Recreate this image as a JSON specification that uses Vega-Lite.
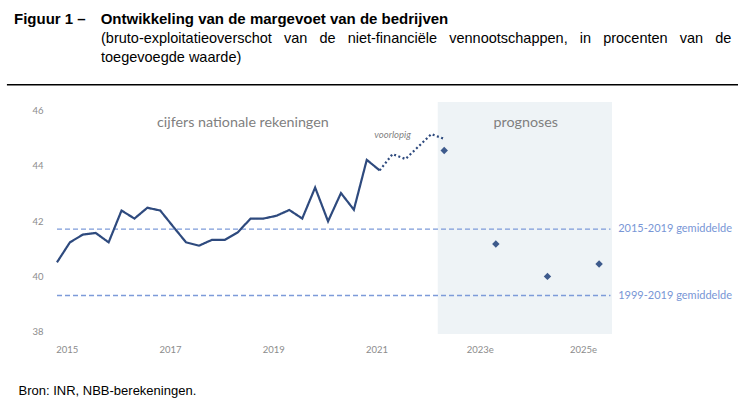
{
  "$schema": "https://vega.github.io/schema/vega-lite/v6.json",
  "autosize": {"type": "none"},
  "width": 555,
  "height": 232,
  "padding": {"left": 57, "top": 102, "right": 126, "bottom": 64},
  "background": "white",
  "config": {"view": {"stroke": null}},
  "title": {
    "text": "Figuur 1 –\u2003Ontwikkeling van de margevoet van de bedrijven",
    "subtitle": [
      "\u200b\u2003\u2003\u2003\u2003\u2003\u2003(bruto-exploitatieoverschot \u00a0\u00a0van \u00a0\u00a0de \u00a0\u00a0niet-financiële \u00a0\u00a0vennootschappen, \u00a0\u00a0in \u00a0\u00a0procenten \u00a0\u00a0van \u00a0\u00a0de",
      "\u200b\u2003\u2003\u2003\u2003\u2003\u2003toegevoegde waarde)"
    ],
    "anchor": "start",
    "frame": "group",
    "dx": -43,
    "offset": 20,
    "font": "Liberation Sans",
    "fontSize": 15,
    "fontWeight": "bold",
    "color": "#000000",
    "subtitleFont": "Liberation Sans",
    "subtitleFontSize": 14.5,
    "subtitleColor": "#000000",
    "subtitlePadding": 5,
    "subtitleLineHeight": 19
  },
  "datasets": {
    "reeks": [
      {"t": 2015.00, "value": 40.51, "reeks": "nationale rekeningen"},
      {"t": 2015.25, "value": 41.23, "reeks": "nationale rekeningen"},
      {"t": 2015.50, "value": 41.51, "reeks": "nationale rekeningen"},
      {"t": 2015.75, "value": 41.57, "reeks": "nationale rekeningen"},
      {"t": 2016.00, "value": 41.23, "reeks": "nationale rekeningen"},
      {"t": 2016.25, "value": 42.38, "reeks": "nationale rekeningen"},
      {"t": 2016.50, "value": 42.09, "reeks": "nationale rekeningen"},
      {"t": 2016.75, "value": 42.48, "reeks": "nationale rekeningen"},
      {"t": 2017.00, "value": 42.38, "reeks": "nationale rekeningen"},
      {"t": 2017.25, "value": 41.80, "reeks": "nationale rekeningen"},
      {"t": 2017.50, "value": 41.23, "reeks": "nationale rekeningen"},
      {"t": 2017.75, "value": 41.11, "reeks": "nationale rekeningen"},
      {"t": 2018.00, "value": 41.32, "reeks": "nationale rekeningen"},
      {"t": 2018.25, "value": 41.32, "reeks": "nationale rekeningen"},
      {"t": 2018.50, "value": 41.59, "reeks": "nationale rekeningen"},
      {"t": 2018.75, "value": 42.09, "reeks": "nationale rekeningen"},
      {"t": 2019.00, "value": 42.09, "reeks": "nationale rekeningen"},
      {"t": 2019.25, "value": 42.19, "reeks": "nationale rekeningen"},
      {"t": 2019.50, "value": 42.40, "reeks": "nationale rekeningen"},
      {"t": 2019.75, "value": 42.09, "reeks": "nationale rekeningen"},
      {"t": 2020.00, "value": 43.21, "reeks": "nationale rekeningen"},
      {"t": 2020.25, "value": 41.99, "reeks": "nationale rekeningen"},
      {"t": 2020.50, "value": 43.01, "reeks": "nationale rekeningen"},
      {"t": 2020.75, "value": 42.41, "reeks": "nationale rekeningen"},
      {"t": 2021.00, "value": 44.21, "reeks": "nationale rekeningen"},
      {"t": 2021.25, "value": 43.83, "reeks": "nationale rekeningen"},
      {"t": 2021.25, "value": 43.83, "reeks": "voorlopig"},
      {"t": 2021.50, "value": 44.42, "reeks": "voorlopig"},
      {"t": 2021.75, "value": 44.24, "reeks": "voorlopig"},
      {"t": 2022.00, "value": 44.69, "reeks": "voorlopig"},
      {"t": 2022.25, "value": 45.14, "reeks": "voorlopig"},
      {"t": 2022.50, "value": 44.97, "reeks": "voorlopig"}
    ],
    "prognoses": [
      {"t": 2022.5, "value": 44.55},
      {"t": 2023.5, "value": 41.17},
      {"t": 2024.5, "value": 40.00},
      {"t": 2025.5, "value": 40.45}
    ],
    "gemiddelden": [
      {"label": "2015-2019 gemiddelde", "value": 41.71},
      {"label": "1999-2019 gemiddelde", "value": 39.31}
    ]
  },
  "layer": [
    {
      "data": {"values": [{}]},
      "mark": {"type": "rect", "color": "#eef3f6"},
      "encoding": {
        "x": {"datum": 2022.375, "type": "quantitative"},
        "x2": {"datum": 2025.75}
      }
    },
    {
      "data": {"name": "gemiddelden"},
      "mark": {"type": "rule", "color": "#7d9bd9", "strokeWidth": 1.3, "strokeDash": [5, 3]},
      "encoding": {
        "y": {"field": "value", "type": "quantitative"},
        "x": {"datum": 2015, "type": "quantitative"},
        "x2": {"datum": 2025.72}
      }
    },
    {
      "data": {"name": "gemiddelden"},
      "mark": {"type": "text", "align": "left", "baseline": "middle", "font": "Lato", "fontSize": 11, "color": "#7896d6"},
      "encoding": {
        "y": {"field": "value", "type": "quantitative"},
        "x": {"datum": 2025.87, "type": "quantitative"},
        "text": {"field": "label"}
      }
    },
    {
      "data": {"name": "reeks"},
      "mark": {"type": "line", "color": "#2e4a7e", "strokeWidth": 2.2},
      "encoding": {
        "x": {
          "field": "t",
          "type": "quantitative",
          "scale": {"domain": [2015, 2025.75], "nice": false, "zero": false},
          "axis": {
            "values": [2015.1875, 2017.1875, 2019.1875, 2021.1875, 2023.1875, 2025.1875],
            "labelExpr": "datum.value > 2022 ? floor(datum.value) + 'e' : '' + floor(datum.value)",
            "domain": false,
            "ticks": false,
            "grid": false,
            "labelFont": "Lato",
            "labelFontSize": 9.5,
            "labelColor": "#8c8c8c",
            "labelPadding": 10,
            "labelFlush": false,
            "title": "Bron: INR, NBB-berekeningen.",
            "titleFont": "Liberation Sans",
            "titleFontSize": 13,
            "titleFontWeight": "normal",
            "titleColor": "#000000",
            "titleAnchor": "start",
            "titleAlign": "left",
            "titleBaseline": "middle",
            "titleX": -39,
            "titleY": 56
          }
        },
        "y": {
          "field": "value",
          "type": "quantitative",
          "scale": {"domain": [37.92, 46.3], "nice": false, "zero": false},
          "axis": {
            "values": [38, 40, 42, 44, 46],
            "domain": false,
            "ticks": false,
            "grid": false,
            "labelFont": "Lato",
            "labelFontSize": 9.5,
            "labelColor": "#8c8c8c",
            "labelPadding": 14,
            "title": null
          }
        },
        "strokeDash": {
          "field": "reeks",
          "type": "nominal",
          "scale": {"domain": ["nationale rekeningen", "voorlopig"], "range": [[1, 0], [2, 2.5]]},
          "legend": null
        }
      }
    },
    {
      "data": {"name": "prognoses"},
      "mark": {"type": "point", "shape": "diamond", "filled": true, "size": 55, "color": "#3d5a8c", "opacity": 1},
      "encoding": {
        "x": {"field": "t", "type": "quantitative"},
        "y": {"field": "value", "type": "quantitative"}
      }
    },
    {
      "data": {"values": [{}]},
      "mark": {"type": "text", "text": "cijfers nationale rekeningen", "font": "Lato", "fontSize": 14.3, "color": "#7f7f7f", "align": "center", "baseline": "middle"},
      "encoding": {
        "x": {"datum": 2018.6, "type": "quantitative"},
        "y": {"datum": 45.55, "type": "quantitative"}
      }
    },
    {
      "data": {"values": [{}]},
      "mark": {"type": "text", "text": "prognoses", "font": "Lato", "fontSize": 14.3, "color": "#7f7f7f", "align": "center", "baseline": "middle"},
      "encoding": {
        "x": {"datum": 2024.08, "type": "quantitative"},
        "y": {"datum": 45.55, "type": "quantitative"}
      }
    },
    {
      "data": {"values": [{}]},
      "mark": {"type": "text", "text": "voorlopig", "font": "Lato", "fontSize": 9.5, "fontStyle": "italic", "color": "#7f7f7f", "align": "center", "baseline": "middle"},
      "encoding": {
        "x": {"datum": 2021.5, "type": "quantitative"},
        "y": {"datum": 45.09, "type": "quantitative"}
      }
    },
    {
      "data": {"values": [{}]},
      "mark": {"type": "rule", "color": "#000000", "strokeWidth": 1.5},
      "encoding": {
        "x": {"datum": 2014.03, "type": "quantitative"},
        "x2": {"datum": 2028.3},
        "y": {"datum": 46.92, "type": "quantitative"}
      }
    }
  ]
}
